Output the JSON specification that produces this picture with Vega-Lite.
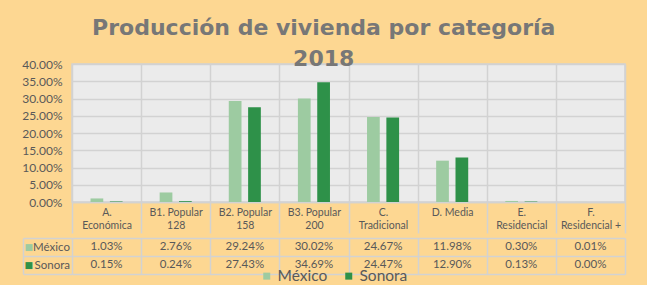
{
  "$schema": "https://vega.github.io/schema/vega-lite/v6.json",
  "background": "#FDD792",
  "padding": {"left": 20, "top": 16, "right": 20, "bottom": 4},
  "datasets": {
    "produccion": [
      {"categoria": "A. Económica", "serie": "México", "valor": 0.0103},
      {"categoria": "A. Económica", "serie": "Sonora", "valor": 0.0015},
      {"categoria": "B1. Popular 128", "serie": "México", "valor": 0.0276},
      {"categoria": "B1. Popular 128", "serie": "Sonora", "valor": 0.0024},
      {"categoria": "B2. Popular 158", "serie": "México", "valor": 0.2924},
      {"categoria": "B2. Popular 158", "serie": "Sonora", "valor": 0.2743},
      {"categoria": "B3. Popular 200", "serie": "México", "valor": 0.3002},
      {"categoria": "B3. Popular 200", "serie": "Sonora", "valor": 0.3469},
      {"categoria": "C. Tradicional", "serie": "México", "valor": 0.2467},
      {"categoria": "C. Tradicional", "serie": "Sonora", "valor": 0.2447},
      {"categoria": "D. Media", "serie": "México", "valor": 0.1198},
      {"categoria": "D. Media", "serie": "Sonora", "valor": 0.129},
      {"categoria": "E. Residencial", "serie": "México", "valor": 0.003},
      {"categoria": "E. Residencial", "serie": "Sonora", "valor": 0.0013},
      {"categoria": "F. Residencial +", "serie": "México", "valor": 0.0001},
      {"categoria": "F. Residencial +", "serie": "Sonora", "valor": 0.0}
    ]
  },
  "title": {
    "text": ["Producción de vivienda por categoría", "2018"],
    "font": "DejaVu Sans",
    "fontWeight": "bold",
    "fontSize": 22,
    "lineHeight": 31.5,
    "color": "#777777",
    "anchor": "middle",
    "offset": -14
  },
  "spacing": -3,
  "vconcat": [
    {
      "width": 553,
      "height": 138,
      "data": {"name": "produccion"},
      "view": {"fill": "#ebebeb", "stroke": "#d2d2d2", "strokeWidth": 1.5},
      "mark": {"type": "bar"},
      "encoding": {
        "x": {
          "field": "categoria",
          "type": "nominal",
          "sort": null,
          "scale": {"paddingInner": 0, "paddingOuter": 0},
          "axis": {
            "title": null,
            "grid": true,
            "gridColor": "#d2d2d2",
            "gridWidth": 1.5,
            "tickBand": "extent",
            "ticks": true,
            "tickSize": 31,
            "tickColor": "#d2d2d2",
            "tickWidth": 1.5,
            "domain": true,
            "domainColor": "#d2d2d2",
            "domainWidth": 1.5,
            "labelAngle": 0,
            "labelBaseline": "middle",
            "labelPadding": -20.5,
            "labelFont": "Lato",
            "labelFontSize": 10.5,
            "labelLineHeight": 13,
            "labelColor": "#595959",
            "labelExpr": "!isString(datum.value) ? '' : (datum.value === 'D. Media' ? datum.value : (indexof(datum.value, 'Popular') > 0 ? [slice(datum.value, 0, 11), slice(datum.value, 12)] : [slice(datum.value, 0, 2), slice(datum.value, 3)]))"
          }
        },
        "xOffset": {
          "field": "serie",
          "type": "nominal",
          "scale": {"paddingInner": 0.342, "paddingOuter": 0.958}
        },
        "y": {
          "field": "valor",
          "type": "quantitative",
          "scale": {"domain": [0, 0.4], "nice": false},
          "axis": {
            "title": null,
            "format": ".2%",
            "values": [0, 0.05, 0.1, 0.15, 0.2, 0.25, 0.3, 0.35, 0.4],
            "grid": true,
            "gridColor": "#d2d2d2",
            "gridWidth": 1.5,
            "domain": false,
            "ticks": false,
            "labelPadding": 10,
            "labelFont": "Lato",
            "labelFontSize": 12,
            "labelColor": "#595959"
          }
        },
        "color": {
          "field": "serie",
          "type": "nominal",
          "scale": {"domain": ["México", "Sonora"], "range": ["#9DCBA1", "#2E9149"]},
          "legend": {
            "title": null,
            "orient": "none",
            "legendX": 187,
            "legendY": 204,
            "direction": "horizontal",
            "symbolType": "square",
            "symbolSize": 49,
            "symbolStrokeWidth": 0,
            "labelFont": "Lato",
            "labelFontSize": 15.5,
            "labelColor": "#595959",
            "labelOffset": 3,
            "columnPadding": 13,
            "padding": 0
          }
        }
      }
    },
    {
      "width": 553,
      "height": 36,
      "data": {"name": "produccion"},
      "view": {"stroke": null},
      "resolve": {"axis": {"y": "independent"}},
      "layer": [
        {
          "mark": {"type": "text", "font": "Lato", "fontSize": 11.5, "color": "#595959"},
          "encoding": {
            "x": {
              "field": "categoria",
              "type": "nominal",
              "sort": null,
              "scale": {"paddingInner": 0, "paddingOuter": 0},
              "axis": {
                "title": null,
                "grid": true,
                "gridColor": "#d2d2d2",
                "gridWidth": 1.5,
                "tickBand": "extent",
                "ticks": false,
                "labels": false,
                "domain": false
              }
            },
            "y": {
              "field": "serie",
              "type": "nominal",
              "sort": ["México", "Sonora"],
              "scale": {"paddingInner": 0, "paddingOuter": 0},
              "axis": {
                "orient": "left",
                "title": null,
                "grid": true,
                "gridColor": "#d2d2d2",
                "gridWidth": 1.5,
                "tickBand": "extent",
                "ticks": true,
                "tickSize": 49,
                "tickColor": "#d2d2d2",
                "tickWidth": 1.5,
                "domain": false,
                "labelPadding": -46.5,
                "labelFont": "Lato",
                "labelFontSize": 11.5,
                "labelColor": "#595959"
              }
            },
            "text": {"field": "valor", "type": "quantitative", "format": ".2%"}
          }
        },
        {
          "mark": {"type": "text", "text": ""},
          "encoding": {
            "y": {
              "field": "serie",
              "type": "nominal",
              "sort": ["México", "Sonora"],
              "axis": {
                "orient": "left",
                "title": null,
                "offset": 49,
                "grid": false,
                "ticks": false,
                "tickSize": 0,
                "domain": true,
                "domainColor": "#d2d2d2",
                "domainWidth": 1.5,
                "labelExpr": "'■'",
                "labelAlign": "left",
                "labelPadding": -1,
                "labelFont": "DejaVu Sans",
                "labelFontSize": 9,
                "labelColor": {"condition": {"test": "datum.value === 'México'", "value": "#9DCBA1"}, "value": "#2E9149"}
              }
            }
          }
        }
      ]
    }
  ]
}
